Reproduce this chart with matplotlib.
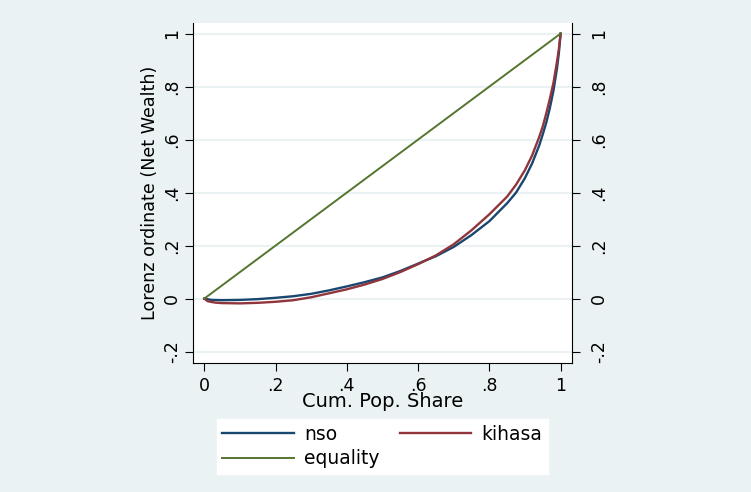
import matplotlib
matplotlib.use("Agg")
import matplotlib.pyplot as plt
from matplotlib.transforms import ScaledTranslation

# Lorenz ordinates for net wealth, two survey sources
pop_nso = [0, 0.02, 0.05, 0.1, 0.15, 0.2, 0.25, 0.3, 0.35, 0.4, 0.45, 0.5,
           0.55, 0.6, 0.65, 0.7, 0.75, 0.8, 0.85, 0.875, 0.9, 0.92, 0.94,
           0.95, 0.96, 0.97, 0.98, 0.99, 0.995, 1.0]
lor_nso = [0, -0.005, -0.006, -0.005, -0.002, 0.003, 0.009, 0.018, 0.031,
           0.046, 0.062, 0.080, 0.104, 0.132, 0.160, 0.195, 0.240, 0.292,
           0.360, 0.400, 0.455, 0.510, 0.578, 0.620, 0.665, 0.720, 0.785,
           0.870, 0.925, 1.0]

pop_kihasa = [0, 0.01, 0.03, 0.05, 0.1, 0.15, 0.2, 0.25, 0.3, 0.35, 0.4,
              0.45, 0.5, 0.55, 0.6, 0.65, 0.7, 0.75, 0.8, 0.85, 0.875, 0.9,
              0.92, 0.94, 0.95, 0.96, 0.97, 0.98, 0.99, 0.995, 1.0]
lor_kihasa = [0, -0.010, -0.015, -0.017, -0.018, -0.016, -0.012, -0.006,
              0.005, 0.020, 0.035, 0.053, 0.074, 0.100, 0.130, 0.163, 0.205,
              0.258, 0.318, 0.385, 0.430, 0.485, 0.540, 0.610, 0.650, 0.700,
              0.755, 0.815, 0.895, 0.940, 1.0]

pop_equal = [0, 1]
lor_equal = [0, 1]

xticks = [0, 0.2, 0.4, 0.6, 0.8, 1]
xtick_labels = ["0", ".2", ".4", ".6", ".8", "1"]
yticks = [-0.2, 0, 0.2, 0.4, 0.6, 0.8, 1]
ytick_labels = ["-.2", "0", ".2", ".4", ".6", ".8", "1"]

BG = "#eaf2f3"
NAVY = "#1a476f"
MAROON = "#90353b"
GREEN = "#55752f"


def main():
    W, H = 751, 492
    fig = plt.figure(figsize=(W / 100, H / 100), dpi=100, facecolor=BG)
    ax = fig.add_axes([192.7 / W, 1 - 363 / H, (572 - 192.7) / W, (363 - 23) / H])
    ax.set_facecolor("white")

    l_nso, = ax.plot(pop_nso, lor_nso, color=NAVY, lw=1.7, label="nso", zorder=3)
    l_kih, = ax.plot(pop_kihasa, lor_kihasa, color=MAROON, lw=1.7, label="kihasa", zorder=3)
    l_eq, = ax.plot(pop_equal, lor_equal, color=GREEN, lw=1.4, label="equality", zorder=3)

    ax.set_xlim(-0.0325, 1.032)
    ax.set_ylim(-0.243, 1.040)

    ax.set_xticks(xticks)
    ax.set_xticklabels(xtick_labels)
    ax.set_yticks(yticks)
    ax.set_yticklabels(ytick_labels)
    ax.grid(axis="y", color=BG, lw=1.5, zorder=0)

    ax.tick_params(axis="both", direction="out", length=6, width=0.8,
                   labelsize=12.5, color="black")
    ax.tick_params(axis="x", pad=4)
    ax.tick_params(axis="y", right=True, labelright=True, labelrotation=90, pad=7)
    # left-hand labels sit a little closer to the axis than the right-hand ones
    shift = ScaledTranslation(6 / 100, 0, fig.dpi_scale_trans)
    for tick in ax.yaxis.get_major_ticks():
        tick.label1.set_va("center")
        tick.label2.set_va("center")
        tick.label1.set_transform(tick.label1.get_transform() + shift)

    for side in ["left", "right", "bottom"]:
        ax.spines[side].set_linewidth(0.8)
    ax.spines["top"].set_visible(False)

    ax.set_xlabel("Cum. Pop. Share", fontsize=14)
    ax.xaxis.set_label_coords(0.5, -0.085)
    ax.xaxis.label.set_va("top")
    ax.set_ylabel("Lorenz ordinate (Net Wealth)", fontsize=12.6)
    ax.yaxis.set_label_coords(-0.089, 0.5)

    # row-wise order: nso, kihasa / equality
    leg = fig.legend([l_nso, l_eq, l_kih], ["nso", "equality", "kihasa"],
                     loc="upper left", ncol=2, fontsize=13.5, mode="expand",
                     bbox_to_anchor=(216.7 / W, 1 - 419 / H, 331.3 / W, 0),
                     handlelength=3.8, handletextpad=0.55, borderaxespad=0,
                     borderpad=0.3, frameon=True, fancybox=False,
                     labelspacing=0.3)
    leg.get_frame().set_facecolor("white")
    leg.get_frame().set_edgecolor("white")
    leg.get_frame().set_alpha(1)

    fig.savefig("out.png", dpi=100, facecolor=BG)


if __name__ == "__main__":
    main()
